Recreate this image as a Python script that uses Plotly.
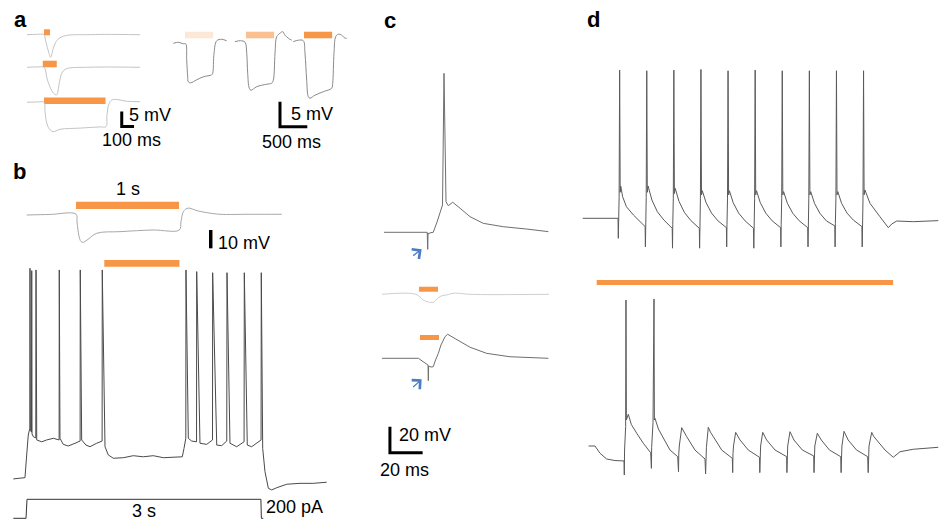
import plotly.graph_objects as go

W, H = 939, 522
FONT = "Liberation Sans, Arial, Helvetica, sans-serif"
ORANGE = "#f79646"

# ================= DATA =================
# ---- Panel a, left: Vm change (mV) vs time from light onset (ms), three pulse durations
a1_t = [-138, -60, 0, 12, 33, 54, 76, 103, 144, 211, 347, 500, 780]
a1_v = [0, 0.1, 0, -1.8, -5.1, -7.5, -4.5, -2.0, -0.7, -0.1, 0, 0.1, 0]
a1_light = [0, 49]

a2_t = [-138, -60, 0, 24, 49, 77, 103, 124, 144, 171, 211, 347, 500, 780]
a2_v = [0, 0.1, 0, -3.6, -6.6, -8.6, -9.2, -5.3, -2.0, -0.7, -0.2, 0, 0.1, 0]
a2_light = [-10, 104]

a3_t = [-138, -60, 0, 8, 20, 37, 73, 130, 293, 455, 504, 512, 528, 553, 602, 659, 780]
a3_v = [0, 0.1, 0, -3.0, -6.5, -8.5, -9.8, -9.0, -8.6, -8.2, -8.1, -4.2, -0.6, 0.8, 0.9, 0.4, 0.2]
a3_light = [0, 500]

# ---- Panel a, right: three light intensities (ms, mV)
ar1_t = [-214, -120, -31, 13, 31, 49, 60, 104, 214, 335, 489, 507, 531, 580, 672, 763]
ar1_v = [0, 0.2, -0.1, -0.1, -3.3, -6.7, -7.7, -7.9, -7.3, -6.7, -6.3, -6.0, -2.0, 0.5, 0.8, 0.5]
ar2_t = [-201, -100, -18, 13, 31, 60, 92, 196, 379, 470, 500, 531, 562, 622, 672, 714, 775, 836]
ar2_v = [0, 0.2, -0.1, -2.3, -6.3, -9.3, -9.7, -9.0, -8.5, -8.3, -7.7, -2.3, 1.0, 1.7, 2.0, 1.3, 0.7, 0.3]
ar3_t = [-196, -104, -13, 18, 49, 79, 110, 201, 353, 507, 525, 549, 580, 628, 690, 750, 781]
ar3_v = [0, 0.3, 0.2, -2.3, -7.7, -11.0, -11.3, -10.7, -10.0, -9.3, -8.3, -2.3, 1.0, 1.5, 1.3, 0.7, 0.7]
ar_light = [0, 515]
ar_colors = ["#fde8d7", "#fac090", ORANGE]

# ---- Panel b, top: 1 s light at rest (s, mV)
bt_t = [-0.479, -0.25, 0, 0.010, 0.029, 0.049, 0.071, 0.107, 0.201, 0.427, 0.748, 1.003,
        1.019, 1.042, 1.078, 1.107, 1.165, 1.269, 1.398, 1.689, 1.998]
bt_v = [0, 0.3, 0.5, -3.8, -11.5, -14.5, -14.9, -13.7, -10.0, -9.1, -8.2, -8.2,
        -3.8, 1.8, 3.6, 3.7, 2.5, 1.3, 0.4, 0.4, 0.4]
bt_light = [0, 1.0]

# ---- Panel b, bottom: spiking during 3 s current step, light 1-2 s (s, mV from rest)
bb_t = [-0.162, -0.034, -0.013, 0.009, 0.029, 0.049, 0.051, 0.056, 0.070, 0.073, 0.077,
        0.093, 0.125, 0.128, 0.137, 0.201, 0.264, 0.349, 0.423, 0.425, 0.434, 0.476,
        0.540, 0.626, 0.691, 0.693, 0.711, 0.766, 0.817, 0.903, 0.972, 0.974, 1.009,
        1.051, 1.115, 1.243, 1.370, 1.498, 1.626, 1.754, 1.881, 1.996, 2.018, 2.041,
        2.043, 2.073, 2.116, 2.178, 2.180, 2.222, 2.308, 2.382, 2.384, 2.436, 2.499,
        2.564, 2.567, 2.605, 2.691, 2.785, 2.788, 2.826, 2.882, 3.002, 3.005, 3.023,
        3.052, 3.095, 3.138, 3.202, 3.330, 3.499, 3.669, 3.840]
bb_v = [0.2, 0.5, 0.9, 13.3, 24.2, 27.9, 115.3, 26.9, 25.8, 114.0, 24.8,
        23.3, 22.6, 114.4, 21.5, 20.5, 21.5, 22.4, 21.5, 114.4, 22.4, 19.1,
        18.2, 19.7, 20.9, 114.4, 21.5, 18.7, 17.8, 19.7, 20.9, 114.4, 17.8,
        13.3, 11.5, 11.8, 12.9, 12.3, 12.9, 11.8, 12.0, 12.3, 16.9, 22.4,
        114.4, 22.4, 20.9, 20.5, 113.5, 19.7, 19.1, 21.5, 112.9, 18.7, 18.4,
        20.9, 112.9, 19.7, 17.8, 20.5, 112.9, 18.7, 17.8, 21.5, 112.9, 16.9,
        4.2, -4.9, -5.8, -4.6, -2.7, -2.2, -2.2, -1.6]
bb_light = [1.0, 1.96]
cur_t = [-0.162, 0.0, 0.013, 3.0, 3.006, 3.03]
cur_i = [0, 0, 200, 200, 0, 0]

# ---- Panel c: responses around stimulation (ms, mV)
ct_t = [-26.7, -0.3, 0, 0.24, 0.67, 1.4, 3.4, 5.7, 8.6, 9.05, 9.97, 11.2, 12.6, 15.3,
        19.8, 25.9, 34.0, 46.2, 60.6, 73.8]
ct_v = [0, 0, -13.1, -0.5, -1.3, -0.4, 0, 7.9, 19.7, 21.0, 122.3, 23.5, 20.5, 23.1,
        18.5, 12.0, 6.9, 4.3, 2.5, 0.5]
cm_t = [-27.9, -7.2, -2.7, 0.2, 3.4, 5.1, 7.5, 12.6, 15.5, 18.7, 25.9, 74.2]
cm_v = [0, 0, -4.4, -5.9, -6.2, -4.4, -1.7, -0.2, 0.8, 0.8, 0, 0]
cm_light = [-5.3, 6.3]
cb_t = [-27.9, -5.7, -2.9, -0.6, 0.2, 0.4, 0.55, 2.0, 3.4, 4.8, 6.5, 8.1, 10.6, 12.2,
        13.6, 17.7, 25.9, 36.1, 50.3, 73.8]
cb_v = [0, 0, -2.5, -4.6, -5.2, -17.2, -5.9, -6.7, -6.5, -1.3, 3.8, 10.2, 16.6, 18.5,
        17.5, 14.6, 8.5, 3.8, 1.2, 0]
cb_light = [-4.7, 6.9]

# ---- Panel d: 20 Hz stimulation train, without (top) and with (bottom) light (ms, mV)
dt_t = [-65.7, -30, -0.5,
        0, 0.5, 1.5, 2.5, 3.5, 4.5, 8, 15, 28,
        49.5, 50, 50.5, 51.5, 52.5, 53.5, 55, 62, 72, 84,
        99.5, 100, 100.5, 101.5, 102.5, 103.5, 105, 112, 122, 134,
        149.5, 150, 150.5, 151.5, 152.5, 153.5, 155, 162, 172, 184,
        199.5, 200, 200.5, 201.5, 202.5, 203.5, 205, 212, 222, 234,
        249.5, 250, 250.5, 251.5, 252.5, 253.5, 255, 262, 272, 284,
        299.5, 300, 300.5, 301.5, 302.5, 303.5, 305, 312, 322, 334,
        349.5, 350, 350.5, 351.5, 352.5, 353.5, 355, 362, 372, 384,
        399.5, 400, 400.5, 401.5, 402.5, 403.5, 405, 412, 422, 434,
        449.5, 450, 450.5, 451.5, 452.5, 453.5, 455, 464.4, 482.8, 498.2, 504.4, 513.7,
        544.3, 590.4]
dt_v = [0, 0.2, 0,
        -15.4, 2, 16, 114, 20, 24.8, 16.6, 8.9, 2.5,
        -6.4, -22, -4, 16, 113.5, 20, 24.8, 14.1, 5.1, -1.3,
        -7.7, -23, -5, 15, 114, 19, 23.1, 13, 4.5, -1.8,
        -7.7, -23, -5, 15, 114.5, 18, 21.2, 12, 4, -2,
        -7.2, -22, -5, 15, 113.5, 18, 21.2, 12, 4, -2,
        -7.7, -23, -5, 15, 114, 18, 21.2, 12, 4, -2,
        -7.2, -22, -5, 15, 113.5, 18, 20.5, 11.5, 3.8, -2,
        -7.2, -22, -5, 15, 113.5, 18, 20.5, 11.5, 3.8, -2,
        -5.9, -22, -4, 15, 113.5, 18, 20.5, 11.5, 4, -1.5,
        -6.4, -22, -4, 15, 113.5, 18, 21.8, 11.5, 1.2, -7.2, -4.4, -2.1,
        -2.6, -1.8]
db_t = [-65.9, -54.1, -44.8, -32.5, -17.2, -0.5,
        0, 0.5, 2.5, 3.1, 3.8, 7.4, 13, 22.9, 35.1,
        48.7, 50, 50.5, 53, 54.8, 55.5, 56.6, 63, 72, 84.3,
        98.5, 100, 100.5, 101.5, 105.9, 110, 115.1, 130.4,
        148.9, 150, 150.5, 151.5, 155, 159, 164.2, 179.7,
        199.3, 200, 200.5, 201.5, 205.5, 209, 213.5, 228.8,
        249.5, 250, 250.5, 251.5, 255.4, 259, 262.7, 278.1,
        299.6, 300, 300.5, 301.5, 305.7, 309, 313, 328.5,
        349.5, 350, 350.5, 351.5, 356.1, 359.5, 363.5, 378.5,
        399.3, 400, 400.5, 401.5, 405.4, 409, 413, 428.5,
        449, 450, 450.5, 451.5, 456.5, 460, 465.7, 481, 496.3, 508.7, 533.2, 579.3]
db_v = [0, 0, -5.6, -10, -11.2, -11.5,
        -22.3, -3.1, 15, 112.3, 20, 24.4, 16.5, 9.8, 2.1,
        -5.2, -17.2, -1, 18, 113.1, 20, 21.3, 13, 5.9, -3.1,
        -8.2, -19.8, -6, 0, 14.1, 10.5, 7.2, -3.1,
        -10, -21.5, -7, -1, 14.4, 10.6, 7.2, -3.1,
        -9.5, -20.5, -6, 0, 10.5, 7.5, 4.6, -3.1,
        -8.7, -20.5, -6, 0, 10.5, 7.5, 4.6, -3.1,
        -8.2, -20.5, -6, 0, 11, 7.8, 4.6, -3.1,
        -7.7, -20.5, -6, 0, 9.8, 7.2, 4.6, -3.1,
        -8.2, -20.5, -6, 0, 11.3, 8, 4.6, -3.1,
        -8.2, -20.5, -6, 0, 10.5, 7.5, 4.6, -3.1, -8.7, -4.4, -2.5, -1]
db_light = [-51, 496]

# scale bars (time, voltage)
sb_a_left = (100, 5)      # ms, mV
sb_a_right = (500, 5)     # ms, mV
sb_b = 10                 # mV
sb_c = (20, 20)           # ms, mV

# ================= LAYOUT HELPERS =================
layout = dict(width=W, height=H, autosize=False, margin=dict(l=0, r=0, t=0, b=0),
              paper_bgcolor="white", plot_bgcolor="rgba(0,0,0,0)", showlegend=False,
              font=dict(family=FONT, size=18, color="black"))
traces = []
annotations = []


def place(i, box, origin, sx, sy):
    """box in px (L,T,R,B); origin px where (0,0) data sits; sx/sy px per data unit"""
    L, T, R, B = box
    ox, oy = origin
    s = "" if i == 1 else str(i)
    layout["xaxis" + s] = dict(domain=[L / W, R / W], range=[(L - ox) / sx, (R - ox) / sx],
                               visible=False, fixedrange=True, anchor="y" + s)
    layout["yaxis" + s] = dict(domain=[1 - B / H, 1 - T / H], range=[(oy - B) / sy, (oy - T) / sy],
                               visible=False, fixedrange=True, anchor="x" + s)
    return "x" + s, "y" + s


def line(ax, x, y, color, width=1, shape="linear"):
    traces.append(go.Scatter(x=x, y=y, xaxis=ax[0], yaxis=ax[1], mode="lines",
                             line=dict(color=color, width=width, shape=shape),
                             hoverinfo="skip", showlegend=False))


def light(ax, span, level, color=ORANGE, width=6):
    line(ax, span, [level, level], color, width)


def ptext(s, x, y, xanchor="center", size=18, bold=False):
    annotations.append(dict(text=("<b>%s</b>" % s) if bold else s, x=x / W, y=1 - y / H,
                            xref="paper", yref="paper", xanchor=xanchor, yanchor="middle",
                            showarrow=False, font=dict(family=FONT, size=size, color="black")))


# ---- axes placement
A1 = place(1, (20, 22, 145, 62), (44, 34.7), 0.123, 3)
A2 = place(2, (20, 55, 145, 100), (44, 67.3), 0.123, 3)
A3 = place(3, (20, 92, 145, 135), (44, 102.3), 0.123, 3)
R1 = place(4, (170, 25, 232, 105), (185, 43.3), 1 / 18.3, 5)
R2 = place(5, (230, 25, 315, 132), (246, 41.7), 1 / 18.3, 5)
R3 = place(6, (290, 25, 355, 105), (304, 41.7), 1 / 18.3, 5)
BT = place(7, (20, 195, 295, 255), (76, 215), 103, 1.83)
BB = place(8, (10, 255, 335, 497), (26, 479.3), 78.3, 1.83)
BC = place(9, (10, 495, 335, 521), (26, 518.3), 78.3, 0.095)
CT = place(10, (378, 62, 556, 262), (427.7, 232.3), 1.635, 1.3)
CM = place(11, (378, 280, 556, 306), (427.7, 294.3), 1.635, 1.3)
CB = place(12, (372, 326, 556, 482), (427.7, 358.3), 1.635, 1.3)
DT = place(13, (580, 60, 939, 256), (618.3, 218.3), 0.542, 1.3)
DB = place(14, (580, 270, 939, 482), (624.3, 446), 0.542, 1.3)

# ---- panel a left
light(A1, a1_light, 0.8)
light(A2, a2_light, 1.1, width=6.6)
light(A3, a3_light, 0.5, width=6.6)
for ax, t, v in [(A1, a1_t, a1_v), (A2, a2_t, a2_v), (A3, a3_t, a3_v)]:
    line(ax, t, v, "#c4c4c4", 1, "spline")
c_t, c_v = 632, -8.1
line(A3, [c_t, c_t, c_t + sb_a_left[0]], [c_v + sb_a_left[1], c_v, c_v], "black", 3)

# ---- panel a right
for ax, t, v, col, lv in [(R1, ar1_t, ar1_v, ar_colors[0], 1.66),
                          (R2, ar2_t, ar2_v, ar_colors[1], 1.34),
                          (R3, ar3_t, ar3_v, ar_colors[2], 1.34)]:
    light(ax, ar_light, lv, col, 6.6)
    line(ax, t, v, "#8a8a8a", 1, "spline")
c_t, c_v = 622, -17
line(R2, [c_t, c_t, c_t + sb_a_right[0]], [c_v + sb_a_right[1], c_v, c_v], "black", 3)

# ---- panel b
light(BT, bt_light, 5.3, width=7.3)
line(BT, bt_t, bt_v, "#a8a8a8", 1, "spline")
line(BT, [1.308, 1.308], [-18.2, -18.2 + sb_b], "black", 3.5)
light(BB, bb_light, 118, width=6.7)
line(BB, bb_t, bb_v, "#4a4a4a", 1)
line(BC, cur_t, cur_i, "#333333", 1)

# ---- panel c
line(CT, ct_t, ct_v, "#6e6e6e", 1)
light(CM, cm_light, 3.9, width=5)
line(CM, cm_t, cm_v, "#cfcfcf", 1, "spline")
light(CB, cb_light, 16, width=5)
line(CB, cb_t, cb_v, "#6e6e6e", 1)
c_t, c_v = -23.1, -72.6
line(CB, [c_t, c_t, c_t + sb_c[0]], [c_v + sb_c[1], c_v, c_v], "black", 3)
for ax, hx, hy, tx, ty in [(CT, -3.7, -13.1, -9.8, -18.8), (CB, -3.7, -16.2, -9.8, -23.1)]:
    annotations.append(dict(x=hx, y=hy, ax=tx, ay=ty, xref=ax[0], yref=ax[1],
                            axref=ax[0], ayref=ax[1], text="", showarrow=True,
                            arrowhead=4, arrowsize=1.8, arrowwidth=1.3, arrowcolor="#4a7cc4"))

# ---- panel d
line(DT, dt_t, dt_v, "#5a5a5a", 1)
light(DB, db_light, 125.8, width=5)
line(DB, db_t, db_v, "#5a5a5a", 1)

# ---- texts
ptext("a", 12, 19.4, "left", 22, True)
ptext("b", 10.5, 171.4, "left", 22, True)
ptext("c", 381.5, 20.7, "left", 22, True)
ptext("d", 585, 19.1, "left", 22, True)
ptext("5 mV", 127, 115, "left")
ptext("100 ms", 131.3, 140)
ptext("5 mV", 288.5, 113.7, "left")
ptext("500 ms", 291.7, 142.5)
ptext("1 s", 128, 188.7)
ptext("10 mV", 215.5, 242.8, "left")
ptext("3 s", 144, 511)
ptext("200 pA", 264, 506.7, "left")
ptext("20 mV", 397, 435, "left")
ptext("20 ms", 404.2, 470.5)

layout["annotations"] = annotations
fig = go.Figure(data=traces, layout=layout)
fig.write_html("out.html", config={"displayModeBar": False, "staticPlot": True},
               post_script="document.body.style.margin='0';document.body.style.overflow='hidden';")
